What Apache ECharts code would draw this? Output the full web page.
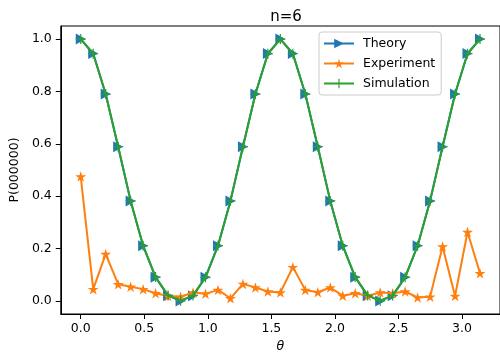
<!DOCTYPE html>
<html><head><meta charset="utf-8">
<script src="https://cdn.jsdelivr.net/npm/echarts@6/dist/echarts.min.js"></script>
<style>html,body{margin:0;padding:0;background:#fff}#c{width:500px;height:358px}</style>
</head><body><div id="c"></div>
<script>
const theta = [0, 0.0982, 0.1963, 0.2945, 0.3927, 0.4909, 0.5890, 0.6872, 0.7854, 0.8836, 0.9817, 1.0799, 1.1781, 1.2763, 1.3744, 1.4726, 1.5708, 1.6690, 1.7671, 1.8653, 1.9635, 2.0617, 2.1598, 2.2580, 2.3562, 2.4544, 2.5525, 2.6507, 2.7489, 2.8471, 2.9452, 3.0434, 3.1416];
const theory = [1.0, 0.945, 0.79, 0.589, 0.382, 0.211, 0.09, 0.02, 0.0, 0.02, 0.09, 0.211, 0.382, 0.589, 0.79, 0.945, 1.0, 0.945, 0.79, 0.589, 0.382, 0.211, 0.09, 0.02, 0.0, 0.02, 0.09, 0.211, 0.382, 0.589, 0.79, 0.945, 1.0];
const experiment = [0.475, 0.045, 0.179, 0.064, 0.054, 0.045, 0.029, 0.019, 0.016, 0.032, 0.027, 0.042, 0.010, 0.065, 0.051, 0.036, 0.032, 0.129, 0.042, 0.033, 0.051, 0.020, 0.029, 0.020, 0.032, 0.029, 0.036, 0.013, 0.016, 0.208, 0.019, 0.263, 0.106];
const simulation = [1.0, 0.944, 0.79, 0.589, 0.382, 0.211, 0.091, 0.021, 0.001, 0.021, 0.09, 0.211, 0.382, 0.589, 0.79, 0.944, 1.0, 0.944, 0.79, 0.589, 0.382, 0.211, 0.091, 0.021, 0.001, 0.021, 0.09, 0.211, 0.382, 0.589, 0.79, 0.944, 1.0];
const xTicks = [0, 0.5, 1.0, 1.5, 2.0, 2.5, 3.0];
const yTicks = [0, 0.2, 0.4, 0.6, 0.8, 1.0];

const pair = arr => arr.map((v, i) => [theta[i], v]);
const FONT = 'DejaVu Sans';
const STAR = 'path://M0,-1 L0.223,-0.307 L0.951,-0.309 L0.361,0.117 L0.588,0.809 L0,0.38 L-0.588,0.809 L-0.361,0.117 L-0.951,-0.309 L-0.223,-0.307 Z';
const TRI = 'path://M-1,-1 L1,0 L-1,1 Z';
const PLUS = 'path://M-0.12,-1 L0.12,-1 L0.12,-0.12 L1,-0.12 L1,0.12 L0.12,0.12 L0.12,1 L-0.12,1 L-0.12,0.12 L-1,0.12 L-1,-0.12 L-0.12,-0.12 Z';

const chart = echarts.init(document.getElementById('c'), null, {renderer: 'canvas'});
chart.setOption({
  animation: false,
  backgroundColor: '#fff',
  title: {text: 'n=6', left: 281, top: 5, textAlign: 'center',
    textStyle: {fontFamily: FONT, fontSize: 15, fontWeight: 'normal', color: '#000'}},
  grid: {left: 59.5, right: -3.5, top: 26, bottom: 44, show: true, borderColor: '#000', borderWidth: 1, backgroundColor: 'transparent'},
  legend: {
    orient: 'vertical', left: 319, top: 32,
    padding: [5, 6, 5, 4], itemGap: 7, itemWidth: 30, itemHeight: 12,
    backgroundColor: 'rgba(255,255,255,0.8)', borderColor: '#cccccc', borderWidth: 1, borderRadius: 3,
    textStyle: {fontFamily: FONT, fontSize: 12.5, color: '#000', padding: [0, 0, 0, 4]},
    data: ['Theory', 'Experiment', 'Simulation']
  },
  xAxis: {
    type: 'value', min: -0.157, max: 3.299,
    name: 'θ', nameLocation: 'middle', nameGap: 26,
    nameTextStyle: {fontFamily: FONT, fontSize: 12.5, fontStyle: 'italic', color: '#000'},
    axisLine: {show: true, onZero: false, lineStyle: {color: '#000', width: 1}},
    axisTick: {show: true, length: 5, lineStyle: {color: '#000'}, customValues: xTicks},
    axisLabel: {fontFamily: FONT, fontSize: 12.5, color: '#000', margin: 8, customValues: xTicks,
      formatter: v => v.toFixed(1)},
    splitLine: {show: false}
  },
  yAxis: {
    type: 'value', min: -0.05, max: 1.05,
    name: 'P(000000)', nameLocation: 'middle', nameGap: 35,
    nameTextStyle: {fontFamily: FONT, fontSize: 12.5, color: '#000'},
    axisLine: {show: true, onZero: false, lineStyle: {color: '#000', width: 1}},
    axisTick: {show: true, length: 5, lineStyle: {color: '#000'}, customValues: yTicks},
    axisLabel: {fontFamily: FONT, fontSize: 12.5, color: '#000', margin: 9, customValues: yTicks,
      formatter: v => v.toFixed(1)},
    splitLine: {show: false}
  },
  series: [
    {name: 'Theory', type: 'line', data: pair(theory), symbol: TRI, symbolSize: [10, 11],
      showAllSymbol: true, color: '#1f77b4', lineStyle: {width: 2, color: '#1f77b4'},
      itemStyle: {color: '#1f77b4'}, z: 2},
    {name: 'Experiment', type: 'line', data: pair(experiment), symbol: STAR, symbolSize: [11, 10.5],
      showAllSymbol: true, color: '#ff7f0e', lineStyle: {width: 2, color: '#ff7f0e'},
      itemStyle: {color: '#ff7f0e'}, z: 3},
    {name: 'Simulation', type: 'line', data: pair(simulation), symbol: PLUS, symbolSize: 10,
      showAllSymbol: true, color: '#2ca02c', lineStyle: {width: 2, color: '#2ca02c'},
      itemStyle: {color: '#2ca02c'}, z: 4}
  ]
});
</script></body></html>
